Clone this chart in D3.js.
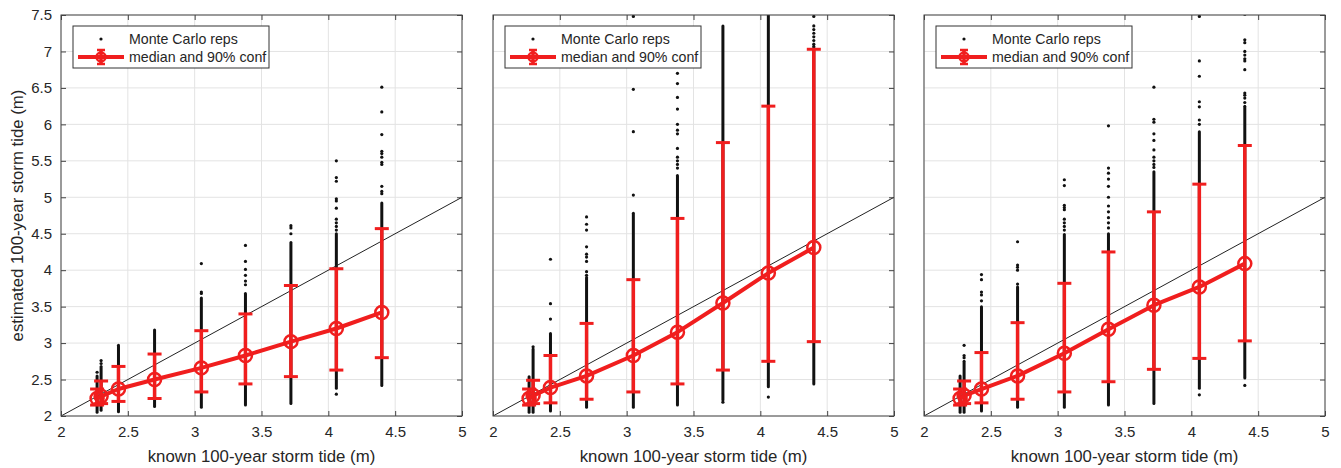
<!DOCTYPE html>
<html>
<head>
<meta charset="utf-8">
<script src="https://cdn.jsdelivr.net/npm/d3@7"></script>
<style>
  body { margin: 0; background: #fff; }
  svg text { font-family: "Liberation Sans", Arial, sans-serif; fill: #262626; }
</style>
</head>
<body>
<div id="chart"></div>
<script>
// known 100-year storm tide for each site (x positions, same for all panels)
var knownTide = [2.27, 2.30, 2.43, 2.70, 3.05, 3.38, 3.72, 4.06, 4.40]

// medians and 90% bounds, one array per panel
var median1 = [2.24, 2.27, 2.37, 2.50, 2.66, 2.83, 3.02, 3.20, 3.42]
var low1    = [2.15, 2.17, 2.20, 2.24, 2.33, 2.44, 2.54, 2.63, 2.80]
var high1   = [2.37, 2.48, 2.68, 2.85, 3.17, 3.40, 3.79, 4.02, 4.57]

var median2 = [2.24, 2.28, 2.39, 2.55, 2.83, 3.15, 3.55, 3.96, 4.31]
var low2    = [2.15, 2.17, 2.18, 2.23, 2.33, 2.44, 2.63, 2.75, 3.02]
var high2   = [2.37, 2.49, 2.83, 3.27, 3.87, 4.71, 5.75, 6.25, 7.03]

var median3 = [2.24, 2.28, 2.37, 2.55, 2.86, 3.19, 3.52, 3.77, 4.09]
var low3    = [2.15, 2.17, 2.18, 2.23, 2.33, 2.47, 2.64, 2.79, 3.03]
var high3   = [2.37, 2.48, 2.87, 3.28, 3.82, 4.25, 4.80, 5.18, 5.71]

// Monte Carlo reps: where the dots are packed into a solid column [min, max]
var dense1 = [[2.05,2.55],[2.08,2.68],[2.06,2.97],[2.13,3.18],[2.12,3.62],[2.15,3.68],[2.17,4.38],[2.38,4.50],[2.42,4.92]]
var dense2 = [[2.05,2.54],[2.05,2.92],[2.07,3.13],[2.12,3.90],[2.12,4.78],[2.15,5.30],[2.22,7.35],[2.40,7.50],[2.44,7.07]]
var dense3 = [[2.05,2.55],[2.05,2.75],[2.07,3.50],[2.12,3.77],[2.12,4.49],[2.15,4.50],[2.17,5.35],[2.38,5.90],[2.52,6.25]]

// Monte Carlo reps: the scattered single dots
var loose1 = [[2.60],[2.76,2.72],[],[],[4.09,3.70,3.68],[4.34,4.12,4.01,3.93,3.85,3.80],[4.61,4.58,4.50],
  [5.50,5.27,5.22,4.98,4.95,4.85,4.70,4.65,4.60,4.55,2.30],
  [6.51,6.17,5.86,5.63,5.60,5.55,5.48,5.45,5.15,5.08,5.05]]
var loose2 = [[],[2.95],[4.15,3.54,3.33],[4.73,4.63,4.55,4.32,4.22,4.18,4.12,3.98,3.93],[7.48,6.48,5.90,5.03],
  [6.70,6.56,6.37,6.21,6.00,5.92,5.87,5.67,5.55,5.50,5.45,5.40],[2.19],[2.26],
  [7.48,7.35,7.30,7.25,7.20,7.15,7.10]]
var loose3 = [[],[2.97,2.83,2.80],[3.94,3.87,3.70,3.66,3.58],[4.39,4.07,4.04,4.00,3.81],
  [5.24,5.16,4.89,4.86,4.83,4.70,4.65,4.60,4.55],
  [5.98,5.40,5.33,5.25,5.15,5.00,4.88,4.80,4.72,4.65,4.58],
  [6.51,6.07,6.03,5.87,5.78,5.65,5.55,5.50,5.45,5.41],
  [7.48,6.87,6.66,6.31,6.24,6.06,6.00,2.29],
  [7.51,7.16,7.12,7.00,6.95,6.90,6.87,6.75,6.43,6.40,6.36,6.30,2.42]]

var xTicks = [2, 2.5, 3, 3.5, 4, 4.5, 5]
var yTicks = [2, 2.5, 3, 3.5, 4, 4.5, 5, 5.5, 6, 6.5, 7, 7.5]
var oneToOne = [2, 5]

var legendLabels = ["Monte Carlo reps", "median and 90% conf"]
var xTitle = "known 100-year storm tide (m)"
var yTitle = "estimated 100-year storm tide (m)"

var panels = [
  {median: median1, low: low1, high: high1, dense: dense1, loose: loose1},
  {median: median2, low: low2, high: high2, dense: dense2, loose: loose2},
  {median: median3, low: low3, high: high3, dense: dense3, loose: loose3}
]

// layout
var svgW = 1341, svgH = 468
var panelLeft = [61, 493, 924]
var panelW = 401
var plotTop = 15, plotBottom = 416
var ph = plotBottom - plotTop
var red = "#f01e1e"

var svg = d3.select("#chart").append("svg")
    .attr("width", svgW)
    .attr("height", svgH)

var xScale = d3.scaleLinear().domain([2, 5]).range([0, panelW])
var yScale = d3.scaleLinear().domain([2, 7.5]).range([ph, 0])

svg.append("defs").append("clipPath").attr("id", "plotClip")
   .append("rect").attr("width", panelW).attr("height", ph)

panels.forEach(function(p, i){
  var g = svg.append("g").attr("transform", "translate(" + panelLeft[i] + "," + plotTop + ")")

  // grid
  g.selectAll(".gx").data(xTicks).enter().append("line")
    .attr("x1", d => xScale(d)).attr("x2", d => xScale(d))
    .attr("y1", 0).attr("y2", ph)
    .style("stroke", "#e3e3e3").style("stroke-width", 1)
  g.selectAll(".gy").data(yTicks).enter().append("line")
    .attr("x1", 0).attr("x2", panelW)
    .attr("y1", d => yScale(d)).attr("y2", d => yScale(d))
    .style("stroke", "#e3e3e3").style("stroke-width", 1)

  var plot = g.append("g").attr("clip-path", "url(#plotClip)")

  // dense columns of reps
  plot.selectAll(".dense").data(p.dense).enter().append("rect")
    .attr("x", (d, k) => xScale(knownTide[k]) - 1.5)
    .attr("y", d => yScale(d[1]) - 1.5)
    .attr("width", 3)
    .attr("height", d => yScale(d[0]) - yScale(d[1]) + 3)
    .attr("rx", 1.5)
    .style("fill", "#111")

  // loose reps
  var loosePts = []
  p.loose.forEach(function(arr, k){
    arr.forEach(v => loosePts.push([knownTide[k], v]))
  })
  plot.selectAll(".dot").data(loosePts).enter().append("circle")
    .attr("cx", d => xScale(d[0]))
    .attr("cy", d => yScale(d[1]))
    .attr("r", 1.6)
    .style("fill", "#111")

  // 1:1 line
  plot.append("line")
    .attr("x1", xScale(oneToOne[0])).attr("y1", yScale(oneToOne[0]))
    .attr("x2", xScale(oneToOne[1])).attr("y2", yScale(oneToOne[1]))
    .style("stroke", "#222").style("stroke-width", 1)

  // error bars
  var eb = plot.selectAll(".eb").data(knownTide).enter().append("g")
  eb.append("line")
    .attr("x1", d => xScale(d)).attr("x2", d => xScale(d))
    .attr("y1", (d, k) => yScale(p.low[k])).attr("y2", (d, k) => yScale(p.high[k]))
    .style("stroke", red).style("stroke-width", 3.5)
  eb.append("line")
    .attr("x1", d => xScale(d) - 7).attr("x2", d => xScale(d) + 7)
    .attr("y1", (d, k) => yScale(p.low[k])).attr("y2", (d, k) => yScale(p.low[k]))
    .style("stroke", red).style("stroke-width", 3)
  eb.append("line")
    .attr("x1", d => xScale(d) - 7).attr("x2", d => xScale(d) + 7)
    .attr("y1", (d, k) => yScale(p.high[k])).attr("y2", (d, k) => yScale(p.high[k]))
    .style("stroke", red).style("stroke-width", 3)

  // median line
  var line = d3.line().x((d, k) => xScale(knownTide[k])).y(d => yScale(d))
  plot.append("path").datum(p.median)
    .attr("d", line)
    .style("fill", "none").style("stroke", red).style("stroke-width", 4)
    .style("stroke-linejoin", "round")

  plot.selectAll(".mk").data(p.median).enter().append("circle")
    .attr("cx", (d, k) => xScale(knownTide[k]))
    .attr("cy", d => yScale(d))
    .attr("r", 6.5)
    .style("fill", "none").style("stroke", red).style("stroke-width", 2.5)

  // box and ticks
  g.append("rect").attr("width", panelW).attr("height", ph)
    .style("fill", "none").style("stroke", "#444").style("stroke-width", 1)

  var xAxisB = d3.axisBottom(xScale).tickValues(xTicks).tickSizeInner(-5).tickSizeOuter(0).tickPadding(10).tickFormat(d3.format("~g"))
  var xAxisT = d3.axisTop(xScale).tickValues(xTicks).tickSizeInner(-5).tickSizeOuter(0).tickFormat("")
  var yAxisL = d3.axisLeft(yScale).tickValues(yTicks).tickSizeInner(-5).tickSizeOuter(0).tickPadding(9).tickFormat(d3.format("~g"))
  var yAxisR = d3.axisRight(yScale).tickValues(yTicks).tickSizeInner(-5).tickSizeOuter(0).tickFormat("")

  var axes = [
    g.append("g").attr("transform", "translate(0," + ph + ")").call(xAxisB),
    g.append("g").call(xAxisT),
    g.append("g").attr("transform", "translate(" + panelW + ",0)").call(yAxisR)
  ]
  if (i === 0) axes.push(g.append("g").call(yAxisL))
  axes.forEach(function(a){
    a.select(".domain").remove()
    a.selectAll("line").style("stroke", "#444")
    a.selectAll("text").style("font-size", "15px").style("fill", "#262626")
      .style("font-family", "Liberation Sans, Arial, sans-serif")
  })

  // x title
  g.append("text")
    .attr("x", panelW / 2).attr("y", ph + 46)
    .style("text-anchor", "middle").style("font-size", "16.8px")
    .text(xTitle)

  // legend
  var lg = g.append("g").attr("transform", "translate(12,11)")
  lg.append("rect").attr("width", 196).attr("height", 42)
    .style("fill", "#fff").style("stroke", "#333").style("stroke-width", 1)
  lg.append("circle").attr("cx", 28).attr("cy", 13).attr("r", 1.6).style("fill", "#111")
  lg.append("line").attr("x1", 5).attr("x2", 51).attr("y1", 31).attr("y2", 31)
    .style("stroke", red).style("stroke-width", 4)
  lg.append("line").attr("x1", 28).attr("x2", 28).attr("y1", 24).attr("y2", 38)
    .style("stroke", red).style("stroke-width", 3.5)
  lg.append("line").attr("x1", 24).attr("x2", 32).attr("y1", 24).attr("y2", 24)
    .style("stroke", red).style("stroke-width", 2.5)
  lg.append("line").attr("x1", 24).attr("x2", 32).attr("y1", 38).attr("y2", 38)
    .style("stroke", red).style("stroke-width", 2.5)
  lg.append("circle").attr("cx", 28).attr("cy", 31).attr("r", 4.5)
    .style("fill", "none").style("stroke", red).style("stroke-width", 2.5)
  lg.selectAll(".lt").data(legendLabels).enter().append("text")
    .attr("x", 56).attr("y", (d, k) => 18 + k * 18)
    .style("font-size", "14.2px")
    .text(d => d)
})

// y title
svg.append("text")
  .attr("transform", "translate(23," + (plotTop + ph / 2) + ") rotate(-90)")
  .style("text-anchor", "middle").style("font-size", "16.8px")
  .text(yTitle)
</script>
</body>
</html>
